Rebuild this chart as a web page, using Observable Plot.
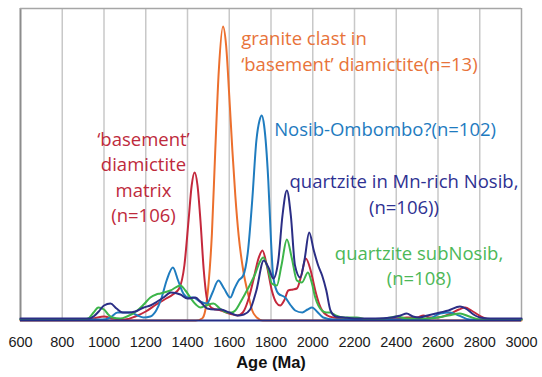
<!DOCTYPE html>
<html>
<head>
<meta charset="utf-8">
<script src="https://cdn.jsdelivr.net/npm/d3@7"></script>
<script src="https://cdn.jsdelivr.net/npm/@observablehq/plot@0.6"></script>
<style>
  html, body { margin: 0; padding: 0; background: #fff; }
</style>
</head>
<body>
<div id="chart"></div>
<script>
const xTicks = [600, 800, 1000, 1200, 1400, 1600, 1800, 2000, 2200, 2400, 2600, 2800, 3000];
const gridTicks = [800, 1000, 1200, 1400, 1600, 1800, 2000, 2200, 2400, 2600, 2800];

// 'basement' diamictite matrix (n=106)
const redAge = [600, 900, 950, 1000, 1040, 1100, 1150, 1200, 1250, 1290, 1330, 1360, 1385, 1405, 1420, 1434, 1448, 1462, 1478, 1495, 1520, 1560, 1600, 1640, 1665, 1690, 1715, 1740, 1759, 1780, 1804, 1825, 1844, 1863, 1883, 1905, 1924, 1945, 1967, 1990, 2012, 2030, 2045, 2070, 2100, 2150, 2200, 2300, 2400, 2450, 2500, 2530, 2560, 2600, 2650, 2700, 2730, 2760, 2790, 2815, 2850, 3000];
const redVal = [1, 1, 2, 4, 2, 1, 4, 9, 16, 21, 26, 32, 55, 100, 135, 148, 135, 100, 50, 20, 12, 10, 7, 5, 8, 20, 40, 62, 70, 55, 30, 18, 15, 20, 30, 31, 32, 45, 62, 50, 30, 17, 10, 5, 3, 2, 2, 1, 2, 3, 3, 5, 3, 3, 6, 11, 13, 10, 6, 3, 1, 1];

// granite clast in 'basement' diamictite (n=13)
const orangeAge = [600, 1440, 1470, 1485, 1501, 1517, 1533, 1550, 1570, 1585, 1600, 1615, 1629, 1645, 1667, 1692, 1710, 1732, 1760, 3000];
const orangeVal = [0, 0, 2, 10, 37, 87, 170, 250, 294, 275, 225, 170, 125, 85, 50, 25, 10, 3, 0, 0];

// Nosib-Ombombo? (n=102)
const blueAge = [600, 1000, 1030, 1065, 1100, 1127, 1160, 1190, 1222, 1250, 1275, 1300, 1330, 1355, 1380, 1405, 1428, 1460, 1493, 1520, 1548, 1575, 1605, 1625, 1645, 1667, 1690, 1710, 1730, 1745, 1756, 1767, 1787, 1800, 1811, 1835, 1868, 1895, 1916, 1950, 1975, 1997, 2020, 2050, 2100, 2200, 2500, 2560, 2610, 2658, 2700, 2750, 3000];
const blueVal = [1, 1, 3, 8, 8, 8, 5, 3, 4, 10, 22, 40, 53, 40, 27, 23, 23, 19, 17, 28, 40, 32, 23, 32, 40, 45, 70, 120, 180, 200, 205, 195, 140, 80, 43, 27, 23, 15, 10, 8, 11, 13, 9, 3, 1, 1, 1, 2, 7, 8, 5, 1, 1];

// quartzite in Mn-rich Nosib (n=106)
const navyAge = [600, 900, 930, 950, 975, 1000, 1031, 1060, 1090, 1120, 1150, 1190, 1222, 1255, 1285, 1320, 1366, 1400, 1437, 1465, 1494, 1530, 1560, 1600, 1640, 1670, 1700, 1730, 1765, 1790, 1811, 1835, 1855, 1876, 1895, 1915, 1940, 1960, 1983, 2005, 2026, 2045, 2065, 2085, 2110, 2150, 2200, 2300, 2380, 2420, 2450, 2480, 2510, 2550, 2610, 2650, 2705, 2740, 2770, 2801, 2850, 3000];
const navyVal = [2, 2, 2, 4, 9, 15, 17, 12, 8, 8, 9, 13, 15, 19, 23, 28, 26, 22, 23, 18, 12, 11, 11, 8, 5, 6, 11, 30, 60, 52, 42, 60, 105, 130, 105, 55, 43, 60, 88, 70, 55, 45, 30, 10, 4, 3, 2, 2, 3, 5, 7, 4, 3, 5, 8, 10, 14, 11, 6, 3, 2, 2];

// quartzite subNosib (n=108)
const greenAge = [600, 900, 925, 950, 973, 1000, 1020, 1040, 1078, 1110, 1160, 1190, 1222, 1250, 1270, 1318, 1366, 1390, 1413, 1440, 1461, 1490, 1524, 1555, 1590, 1610, 1629, 1650, 1677, 1700, 1725, 1745, 1763, 1785, 1804, 1828, 1850, 1876, 1900, 1924, 1948, 1977, 1995, 2012, 2044, 2065, 2083, 2110, 2150, 2211, 2260, 2350, 2403, 2450, 2550, 2600, 2650, 2705, 2750, 2800, 3000];
const greenVal = [1, 1, 2, 8, 13, 11, 6, 3, 2, 4, 10, 16, 23, 26, 27, 30, 35, 30, 23, 16, 13, 15, 17, 12, 8, 8, 10, 17, 27, 36, 47, 58, 63, 52, 37, 35, 55, 81, 62, 40, 38, 48, 38, 23, 10, 8, 8, 5, 3, 3, 1, 2, 4, 2, 2, 3, 5, 7, 4, 1, 1];

const toRows = (ages, vals) => ages.map((a, i) => ({age: a, v: vals[i]}));

const lineOpts = (color) => ({x: "age", y: "v", stroke: color, strokeWidth: 2, curve: "monotone-x"});

const labelFont = "'Open Sans', 'Noto Sans', sans-serif";

const chart = Plot.plot({
  width: 542,
  height: 377,
  marginLeft: 20,
  marginRight: 21,
  marginTop: 8,
  marginBottom: 57,
  x: {domain: [600, 3000]},
  y: {domain: [0, 312], axis: null},
  style: {fontFamily: "'Liberation Sans', Arial, sans-serif", background: "#fff", overflow: "visible"},
  marks: [
    Plot.ruleX(gridTicks, {stroke: "#c8c8c8", strokeWidth: 1.5}),
    Plot.ruleX([600], {stroke: "#8c8c8c", strokeWidth: 2}),
    Plot.ruleX([3000], {stroke: "#a6a6a6", strokeWidth: 1.5}),
    Plot.ruleY([312], {stroke: "#a6a6a6", strokeWidth: 1.5}),
    Plot.line(toRows(orangeAge, orangeVal), lineOpts("#ec6f2d")),
    Plot.line(toRows(redAge, redVal), lineOpts("#c4283c")),
    Plot.line(toRows(blueAge, blueVal), lineOpts("#1f7cbf")),
    Plot.line(toRows(greenAge, greenVal), lineOpts("#3db54a")),
    Plot.line(toRows(navyAge, navyVal), lineOpts("#2b2e85")),
    Plot.ruleY([0], {stroke: "#232c86", strokeWidth: 2}),
    Plot.axisX({ticks: xTicks, tickSize: 0, tickPadding: 16, fontSize: 14.5, label: null, color: "#1a1a1a", tickFormat: d => String(d)}),
    Plot.text(["Age (Ma)"], {frameAnchor: "bottom", dy: 47, fontWeight: "bold", fontSize: 16.5, fill: "#111"}),
    Plot.text([{t: "granite clast in\n‘basement’ diamictite(n=13)", x: 1657, y: 271}],
      {x: "x", y: "y", text: "t", fill: "#e8733a", fontSize: 18.5, fontFamily: labelFont, textAnchor: "start", lineHeight: 1.42}),
    Plot.text([{t: "‘basement’\ndiamictite\nmatrix\n(n=106)", x: 1189, y: 144.5}],
      {x: "x", y: "y", text: "t", fill: "#be2a3c", fontSize: 18.5, fontFamily: labelFont, textAnchor: "middle", lineHeight: 1.36}),
    Plot.text([{t: "Nosib-Ombombo?(n=102)", x: 1815, y: 190}],
      {x: "x", y: "y", text: "t", fill: "#1e7bbf", fontSize: 18.5, fontFamily: labelFont, textAnchor: "start"}),
    Plot.text([{t: "quartzite in Mn-rich Nosib,\n(n=106))", x: 2437, y: 127.5}],
      {x: "x", y: "y", text: "t", fill: "#2e3192", fontSize: 18.5, fontFamily: labelFont, textAnchor: "middle", lineHeight: 1.36}),
    Plot.text([{t: "quartzite subNosib,\n(n=108)", x: 2509, y: 56}],
      {x: "x", y: "y", text: "t", fill: "#4cb858", fontSize: 18.5, fontFamily: labelFont, textAnchor: "middle", lineHeight: 1.36})
  ]
});

document.getElementById("chart").appendChild(chart);
</script>
</body>
</html>
